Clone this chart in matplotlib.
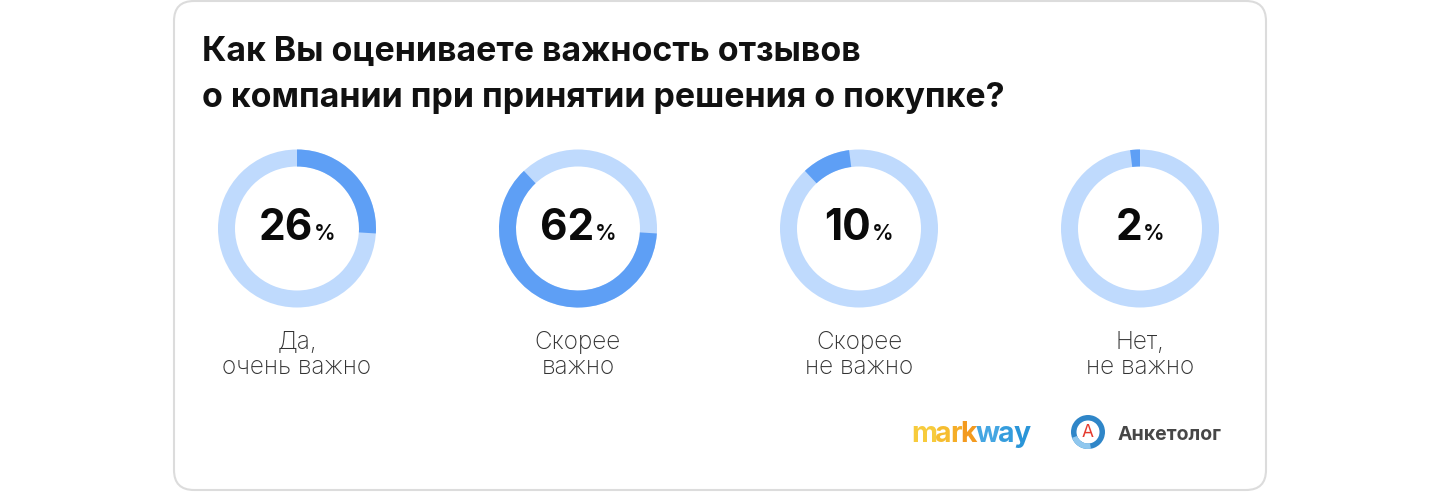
import matplotlib
matplotlib.use("Agg")
import matplotlib.pyplot as plt
from matplotlib.patches import Wedge, Circle, FancyBboxPatch

# chart data
title_lines = ["Как Вы оцениваете важность отзывов",
               "о компании при принятии решения о покупке?"]
labels = ["Да,\nочень важно", "Скорее\nважно", "Скорее\nне важно", "Нет,\nне важно"]
values = [26, 62, 10, 2]

DARK = "#5e9ff5"
LIGHT = "#bfdafd"
FONT = ["Inter", "DejaVu Sans"]

W, H = 1440, 492
fig = plt.figure(figsize=(W / 100, H / 100), dpi=100)
ax = fig.add_axes([0, 0, 1, 1])
ax.set_xlim(0, W)
ax.set_ylim(0, H)
ax.axis("off")


def Y(y_ref):
    # reference pixel row -> axes y (y up)
    return H - y_ref


# card
card = FancyBboxPatch((174, Y(490)), 1092, 489,
                      boxstyle="round,pad=0,rounding_size=20",
                      facecolor="white", edgecolor="#dcdcdc", linewidth=1.5)
ax.add_patch(card)

# title
for i, line in enumerate(title_lines):
    ax.text(202, Y(61 + 46 * i), line, fontsize=24.4, fontweight="bold",
            family=FONT, color="#111111", va="baseline", ha="left")

fig.canvas.draw()
renderer = fig.canvas.get_renderer()

centers = [297, 578, 859, 1140]
cy = Y(228.5)
r_out, ring = 79, 17
start = 0
for cx, v, lab in zip(centers, values, labels):
    ax.add_patch(Wedge((cx, cy), r_out, 0, 360, width=ring,
                       facecolor=LIGHT, edgecolor="none"))
    t1 = 90 - 360 * (start + v) / 100
    t2 = 90 - 360 * start / 100
    ax.add_patch(Wedge((cx, cy), r_out, t1, t2, width=ring,
                       facecolor=DARK, edgecolor="none"))
    start += v

    num = ax.text(0, Y(240), str(v), fontsize=30.5, fontweight="bold",
                  family=FONT, color="#0a0a0a", va="baseline", ha="left")
    pct = ax.text(0, Y(240), "%", fontsize=15.5, fontweight="semibold",
                  family=FONT, color="#0a0a0a", va="baseline", ha="left")
    w1 = num.get_window_extent(renderer).width
    w2 = pct.get_window_extent(renderer).width
    gap = 1
    x0 = cx - (w1 + gap + w2) / 2
    num.set_x(x0)
    pct.set_x(x0 + w1 + gap)

    ax.text(cx, Y(355), lab, fontsize=17.5, fontweight="light", family=FONT,
            color="#333333", ha="center", va="center", linespacing=1.1,
            multialignment="center")

# markway logo
mk_colors = ["#f7cb3c", "#f6bd30", "#f5ad27", "#f39a1f",
             "#45a6e2", "#359ddd", "#2a95d8"]
x = 911
for ch, c in zip("markway", mk_colors):
    t = ax.text(x, Y(442), ch, fontsize=20.5, fontweight="bold", family=FONT,
                color=c, va="baseline", ha="left")
    x += t.get_window_extent(renderer).width - 1.5

# Anketolog logo
lx, ly = 1088, Y(432)
ax.add_patch(Wedge((lx, ly), 17, 0, 360, width=5.5, facecolor="#2f86c8",
                   edgecolor="none"))
ax.add_patch(Wedge((lx, ly), 17, 200, 280, width=5.5, facecolor="#8fc7ee",
                   edgecolor="none"))
ax.add_patch(Circle((lx, ly), 11, facecolor="white", edgecolor="none"))
ax.text(lx, ly - 0.5, "А", fontsize=12.5, family=FONT, color="#e53b2f",
        ha="center", va="center")
ax.text(1118, Y(440), "Анкетолог", fontsize=14, fontweight="bold",
        family=FONT, color="#474747", ha="left", va="baseline")

fig.savefig("out.png", dpi=100, facecolor="white")
